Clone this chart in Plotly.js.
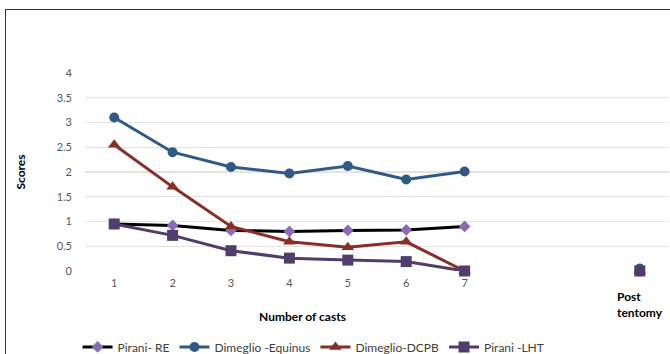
<!DOCTYPE html>
<html><head><meta charset="utf-8">
<script src="https://cdn.plot.ly/plotly-3.0.1.min.js"></script>
<style>
html,body{margin:0;padding:0;background:#fff;}
#frame{position:absolute;left:5px;top:9px;width:680px;height:360px;border:1.5px solid #333;box-sizing:border-box;pointer-events:none;z-index:5;}
#chart{position:absolute;left:0;top:0;width:670px;height:354px;}
</style></head>
<body>
<div id="chart"></div>
<div id="frame"></div>
<script>
const xCats = [1,2,3,4,5,6,7,8,9,10];
const tickVals = [1,2,3,4,5,6,7];
const tickText = ['1','2','3','4','5','6','7'];
const postLabel = 'Post<br>tentomy';
const xTitle = 'Number of casts';
const yTitle = 'Scores';
const piraniRE = [0.95,0.92,0.82,0.80,0.82,0.83,0.90,null,null,0];
const dimeglioEquinus = [3.10,2.40,2.10,1.97,2.12,1.85,2.01,null,null,0.05];
const dimeglioDCPB = [2.55,1.70,0.90,0.59,0.48,0.59,0,null,null,0];
const piraniLHT = [0.95,0.72,0.41,0.26,0.22,0.19,0,null,null,0];

const traces = [
  {x:xCats,y:piraniRE,name:'Pirani- RE',mode:'lines+markers',
   line:{color:'#000000',width:3},marker:{symbol:'diamond',size:9,color:'#8B6BB8'}},
  {x:xCats,y:dimeglioEquinus,name:'Dimeglio -Equinus',mode:'lines+markers',
   line:{color:'#2F5A88',width:3},marker:{symbol:'circle',size:10,color:'#2F5A88'}},
  {x:xCats,y:dimeglioDCPB,name:'Dimeglio-DCPB',mode:'lines+markers',
   line:{color:'#8A2E2A',width:3},marker:{symbol:'triangle-up',size:11,color:'#8A2E2A'}},
  {x:xCats,y:piraniLHT,name:'Pirani -LHT',mode:'lines+markers',
   line:{color:'#503D6C',width:3},marker:{symbol:'square',size:11,color:'#503D6C'}}
];
traces.forEach(t=>{t.connectgaps=false;t.cliponaxis=false;});

const layout = {
  width:670,height:354,
  margin:{l:85,r:1,t:73,b:83,autoexpand:false},
  paper_bgcolor:'#fff',plot_bgcolor:'#fff',
  font:{family:'Lato, "Open Sans", sans-serif',size:11,color:'#595959'},
  showlegend:true,
  legend:{orientation:'h',xref:'container',yref:'container',x:0.468,xanchor:'center',y:0.02,yanchor:'middle',
    font:{size:12,color:'#404040'},itemwidth:30,tracegroupgap:0},
  xaxis:{range:[0.5,10.5],tickmode:'array',tickvals:tickVals,ticktext:tickText,
    showgrid:false,zeroline:false,showline:false,ticks:'',automargin:false,ticklabelstandoff:4,
    tickfont:{size:11,color:'#595959'}},
  yaxis:{range:[0,4],dtick:0.5,showgrid:true,gridcolor:'#E3E3E3',gridwidth:1.3,
    zeroline:false,showline:false,ticks:'',automargin:false,ticklabelstandoff:12,
    tickfont:{size:11,color:'#595959'},
    title:{text:yTitle,font:{size:12,color:'#000',weight:'bold'},standoff:28}},
  annotations:[
    {xref:'x',yref:'paper',x:9.58,y:-0.08,xanchor:'left',yanchor:'top',
     text:postLabel,showarrow:false,align:'left',
     font:{size:12,color:'#000',weight:'bold'}},
    {xref:'paper',yref:'paper',x:0.372,y:-0.229,xanchor:'center',yanchor:'middle',
     text:xTitle,showarrow:false,font:{size:12,color:'#000',weight:'bold'}}
  ]
};
Plotly.newPlot('chart',traces,layout,{displayModeBar:false,staticPlot:true});
</script>
</body></html>
